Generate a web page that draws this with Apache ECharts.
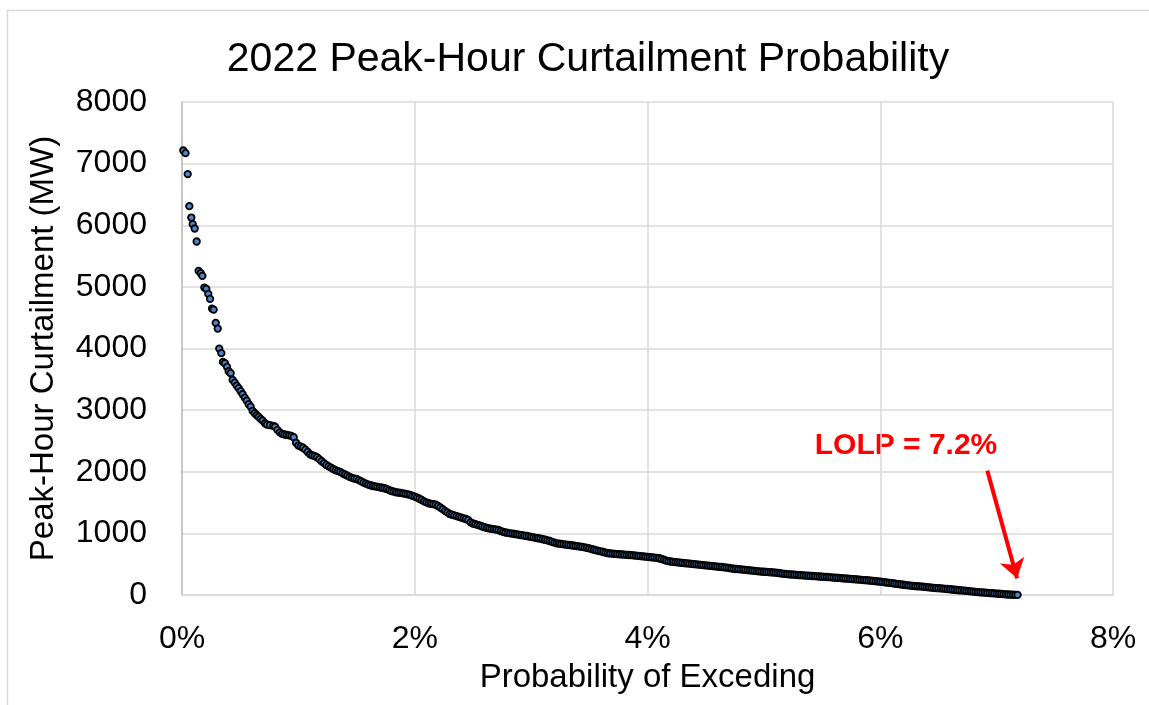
<!DOCTYPE html>
<html>
<head>
<meta charset="utf-8">
<script src="https://cdn.jsdelivr.net/npm/echarts@6/dist/echarts.min.js"></script>
<style>
  html, body { margin: 0; padding: 0; background: #fff; }
  #main { width: 1149px; height: 705px; }
</style>
</head>
<body>
<div id="main"></div>
<script>
// sparse points at the top of the curve: [probability %, MW]
var headPoints = [
  [0.011, 7213], [0.030, 7170], [0.049, 6830], [0.063, 6310], [0.080, 6125],
  [0.092, 6018], [0.109, 5947], [0.126, 5736], [0.143, 5260], [0.161, 5222],
  [0.175, 5179], [0.192, 4989], [0.209, 4968], [0.226, 4886], [0.241, 4805],
  [0.258, 4648], [0.272, 4631], [0.290, 4416], [0.307, 4323], [0.320, 3998],
  [0.338, 3924], [0.352, 3782], [0.369, 3761], [0.387, 3701], [0.401, 3631],
  [0.418, 3599], [0.435, 3490], [0.453, 3447], [0.470, 3398], [0.487, 3356],
  [0.504, 3307], [0.521, 3258], [0.539, 3203], [0.556, 3154], [0.573, 3096],
  [0.590, 3057], [0.607, 2987], [0.625, 2950], [0.642, 2917], [0.659, 2890],
  [0.676, 2857], [0.693, 2830], [0.713, 2787], [0.730, 2765], [0.756, 2755],
  [0.784, 2744]
];

// dense part of the curve: [probability %, MW]
var densePoints = [
  [0.80, 2730], [0.82, 2680], [0.84, 2640], [0.86, 2615], [0.88, 2605], [0.90, 2597],
  [0.92, 2590], [0.94, 2582], [0.96, 2560], [0.98, 2470], [1.00, 2425], [1.02, 2407],
  [1.04, 2390], [1.06, 2360], [1.08, 2321], [1.10, 2284], [1.12, 2268], [1.14, 2255],
  [1.16, 2235], [1.18, 2205], [1.20, 2170], [1.22, 2140], [1.24, 2110], [1.26, 2088],
  [1.28, 2068], [1.30, 2045], [1.32, 2025], [1.34, 2010], [1.36, 1997], [1.38, 1975],
  [1.40, 1955], [1.42, 1937], [1.44, 1916], [1.46, 1902], [1.48, 1890], [1.50, 1883],
  [1.52, 1865], [1.54, 1845], [1.56, 1823], [1.58, 1808], [1.60, 1792], [1.62, 1781],
  [1.64, 1769], [1.66, 1762], [1.68, 1755], [1.70, 1748], [1.72, 1740], [1.74, 1732],
  [1.76, 1721], [1.78, 1702], [1.80, 1688], [1.82, 1677], [1.84, 1667], [1.86, 1661],
  [1.88, 1656], [1.90, 1650], [1.92, 1641], [1.94, 1633], [1.96, 1625], [1.98, 1608],
  [2.00, 1596], [2.02, 1580], [2.04, 1562], [2.06, 1542], [2.08, 1520], [2.10, 1502],
  [2.12, 1489], [2.14, 1480], [2.16, 1474], [2.18, 1465], [2.20, 1445], [2.22, 1420],
  [2.24, 1393], [2.26, 1366], [2.28, 1340], [2.30, 1315], [2.32, 1303], [2.34, 1292],
  [2.36, 1280], [2.38, 1267], [2.40, 1255], [2.42, 1244], [2.44, 1233], [2.46, 1215],
  [2.48, 1180], [2.50, 1160], [2.52, 1150], [2.54, 1137], [2.56, 1125], [2.58, 1112],
  [2.60, 1100], [2.62, 1088], [2.64, 1080], [2.66, 1074], [2.68, 1068], [2.70, 1062],
  [2.72, 1055], [2.74, 1038], [2.76, 1024], [2.78, 1014], [2.80, 1008], [2.82, 1001],
  [2.84, 995], [2.86, 990], [2.88, 985], [2.90, 977], [2.92, 970], [2.94, 964],
  [2.96, 958], [2.98, 950], [3.00, 942], [3.02, 935], [3.04, 928], [3.06, 921],
  [3.08, 914], [3.10, 905], [3.12, 897], [3.14, 888], [3.16, 876], [3.18, 863],
  [3.20, 850], [3.22, 839], [3.24, 833], [3.26, 828], [3.28, 823], [3.30, 818],
  [3.32, 813], [3.34, 808], [3.36, 803], [3.38, 798], [3.40, 792], [3.42, 786],
  [3.44, 780], [3.46, 773], [3.48, 766], [3.50, 757], [3.52, 746], [3.54, 735],
  [3.56, 725], [3.58, 716], [3.60, 707], [3.62, 698], [3.64, 688], [3.66, 678],
  [3.68, 674], [3.70, 671], [3.72, 668], [3.74, 664], [3.76, 661], [3.78, 658],
  [3.80, 655], [3.82, 652], [3.84, 649], [3.86, 646], [3.88, 643], [3.90, 640],
  [3.92, 636], [3.94, 632], [3.96, 628], [3.98, 624], [4.00, 620], [4.02, 616],
  [4.04, 612], [4.06, 608], [4.08, 603], [4.10, 596], [4.12, 585], [4.14, 572],
  [4.16, 559], [4.18, 550], [4.20, 544], [4.22, 539], [4.24, 534], [4.26, 529],
  [4.28, 524], [4.30, 520], [4.32, 516], [4.34, 513], [4.36, 509], [4.38, 505],
  [4.40, 501], [4.42, 497], [4.44, 493], [4.46, 489], [4.48, 485], [4.50, 481],
  [4.52, 478], [4.54, 474], [4.56, 470], [4.58, 466], [4.60, 462], [4.62, 458],
  [4.64, 454], [4.66, 449], [4.68, 444], [4.70, 438], [4.72, 432], [4.74, 426],
  [4.76, 422], [4.78, 419], [4.80, 415], [4.82, 412], [4.84, 408], [4.86, 404],
  [4.88, 400], [4.90, 396], [4.92, 392], [4.94, 388], [4.96, 384], [4.98, 380],
  [5.00, 377], [5.02, 375], [5.04, 372], [5.06, 369], [5.08, 366], [5.10, 362],
  [5.12, 358], [5.14, 353], [5.16, 348], [5.18, 343], [5.20, 339], [5.22, 336],
  [5.24, 333], [5.26, 330], [5.28, 327], [5.30, 324], [5.32, 321], [5.34, 319],
  [5.36, 316], [5.38, 313], [5.40, 311], [5.42, 308], [5.44, 306], [5.46, 303],
  [5.48, 300], [5.50, 297], [5.52, 295], [5.54, 292], [5.56, 289], [5.58, 286],
  [5.60, 283], [5.62, 280], [5.64, 277], [5.66, 274], [5.68, 271], [5.70, 268],
  [5.72, 265], [5.74, 262], [5.76, 259], [5.78, 256], [5.80, 252], [5.82, 249],
  [5.84, 246], [5.86, 243], [5.88, 240], [5.90, 236], [5.92, 232], [5.94, 228],
  [5.96, 224], [5.98, 220], [6.00, 216], [6.02, 212], [6.04, 207], [6.06, 202],
  [6.08, 197], [6.10, 192], [6.12, 187], [6.14, 182], [6.16, 176], [6.18, 171],
  [6.20, 166], [6.22, 161], [6.24, 156], [6.26, 152], [6.28, 149], [6.30, 145],
  [6.32, 142], [6.34, 139], [6.36, 136], [6.38, 132], [6.40, 129], [6.42, 125],
  [6.44, 121], [6.46, 117], [6.48, 113], [6.50, 110], [6.52, 107], [6.54, 104],
  [6.56, 100], [6.58, 97], [6.60, 93], [6.62, 89], [6.64, 85], [6.66, 81],
  [6.68, 77], [6.70, 74], [6.72, 71], [6.74, 67], [6.76, 63], [6.78, 59],
  [6.80, 55], [6.82, 51], [6.84, 47], [6.86, 44], [6.88, 41], [6.90, 38],
  [6.92, 35], [6.94, 32], [6.96, 29], [6.98, 26], [7.00, 23], [7.02, 20],
  [7.04, 17], [7.06, 14], [7.08, 11], [7.10, 8], [7.12, 6], [7.14, 4],
  [7.16, 2], [7.18, 1]
];

var lolpText = 'LOLP = 7.2%';
// arrow from the label down to the end of the curve, in data units
var arrowFrom = [6.92, 2018];
var arrowTo = [7.176, 270];

var font = '"Liberation Sans", Arial, sans-serif';

var chart = echarts.init(document.getElementById('main'));
chart.setOption({
  backgroundColor: '#fff',
  animation: false,
  title: {
    text: '2022 Peak-Hour Curtailment Probability',
    left: 583,
    top: 34,
    textAlign: 'center',
    textStyle: { fontFamily: font, fontSize: 41, fontWeight: 'normal', color: '#000' }
  },
  grid: { left: 182, right: 36, top: 102, bottom: 110, containLabel: false },
  xAxis: {
    type: 'value',
    min: 0,
    max: 8,
    interval: 2,
    name: 'Probability of Exceding',
    nameLocation: 'middle',
    nameGap: 66,
    nameTextStyle: { fontFamily: font, fontSize: 33, color: '#000' },
    axisLine: { show: true, lineStyle: { color: '#d9d9d9', width: 1.5 } },
    axisTick: { show: false },
    axisLabel: {
      margin: 28,
      fontFamily: font,
      fontSize: 32,
      color: '#000',
      formatter: function (v) { return v + '%'; }
    },
    splitLine: { show: true, lineStyle: { color: '#d9d9d9', width: 1.5 } }
  },
  yAxis: {
    type: 'value',
    min: 0,
    max: 8000,
    interval: 1000,
    name: 'Peak-Hour Curtailment (MW)',
    nameLocation: 'middle',
    nameGap: 122,
    nameTextStyle: { fontFamily: font, fontSize: 33, color: '#000' },
    axisLine: { show: true, lineStyle: { color: '#bfbfbf', width: 1.5 } },
    axisTick: { show: false },
    axisLabel: {
      margin: 35,
      fontFamily: font,
      fontSize: 32,
      color: '#000',
      formatter: function (v) { return String(v); }
    },
    splitLine: { show: true, lineStyle: { color: '#d9d9d9', width: 1.5 } }
  },
  graphic: [
    {
      type: 'rect',
      silent: true,
      shape: { x: 7.5, y: 10.5, width: 1200, height: 800 },
      style: { fill: null, stroke: '#d9d9d9', lineWidth: 1.5 }
    },
    {
      type: 'text',
      silent: true,
      x: 906,
      y: 446,
      style: {
        text: lolpText,
        fill: '#ff0000',
        font: 'bold 30px "Liberation Sans", Arial, sans-serif',
        textAlign: 'center',
        textVerticalAlign: 'middle'
      }
    }
  ],
  series: [
    {
      type: 'scatter',
      data: headPoints.concat(densePoints),
      symbol: 'circle',
      symbolSize: 6.5,
      itemStyle: { color: '#4a86c8', borderColor: '#000', borderWidth: 1.8, opacity: 1 },
      markLine: {
        silent: true,
        symbol: ['none', 'arrow'],
        symbolSize: 19,
        label: { show: false },
        lineStyle: { color: '#ff0000', width: 4, type: 'solid' },
        itemStyle: { color: '#ff0000' },
        data: [[{ coord: arrowFrom }, { coord: arrowTo }]]
      }
    }
  ]
});
</script>
</body>
</html>
